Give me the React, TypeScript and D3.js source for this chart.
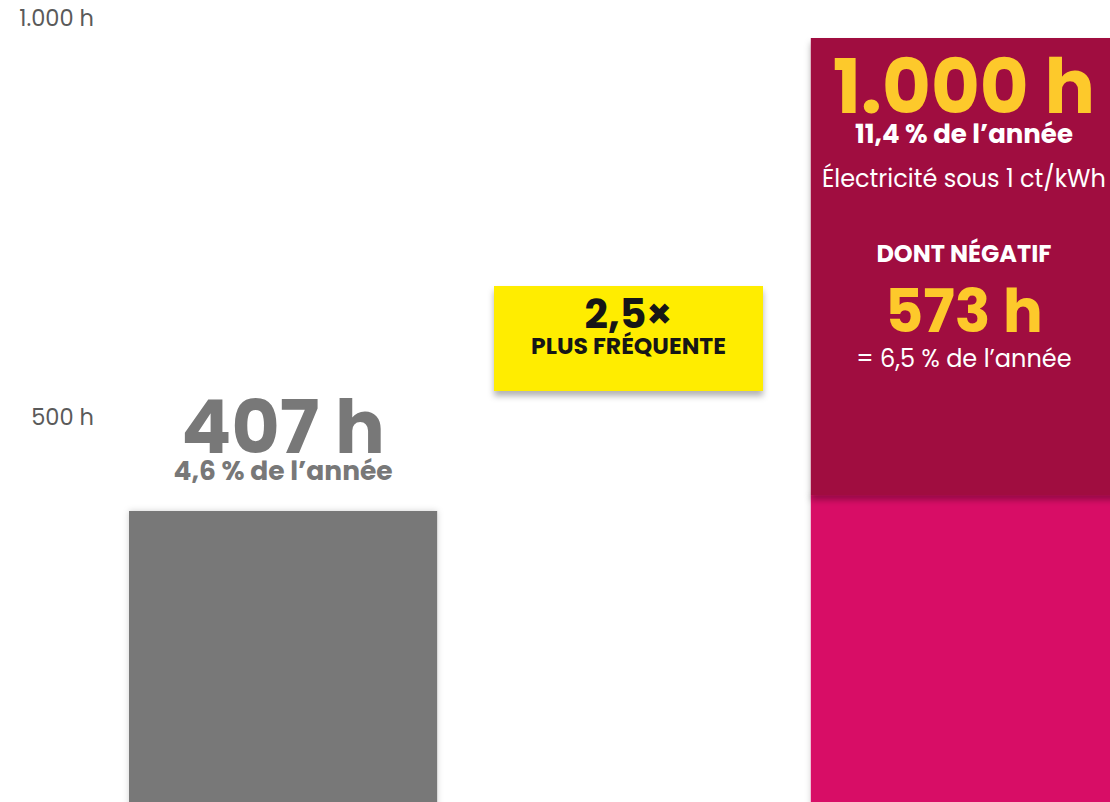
import { useEffect, useRef } from "react";
import * as d3 from "d3";

// periods compared (internal keys, not printed)
const periods = ["avant", "après"];
// hours with electricity below 1 ct/kWh
const totalHours = [407, 1000];
// of which hours with negative prices
const negativeHours = [0, 573];
const yTicks = [500, 1000];
const hoursInYear = 8760;

const colors = {
  axis: "#5a5a5a",
  grey: "#787878",
  dark: "#A0093F",
  pink: "#D81066",
  gold: "#FDC92B",
  box: "#FFED00",
  ink: "#161616",
};

const FONT = "Poppins, Inter, 'Open Sans', sans-serif";

const fr = d3.formatLocale({ decimal: ",", thousands: ".", grouping: [3], currency: ["", " €"] });
const fmtH = fr.format(",d");
const fmt1 = fr.format(".1f");

export default function App() {
  const svgRef = useRef<SVGSVGElement | null>(null);
  const width = 1110;
  const height = 802;

  useEffect(() => {
    if (!svgRef.current) return;
    const svg = d3.select(svgRef.current);
    svg.selectAll("*").remove();

    const x = d3.scaleBand().domain(periods).range([129, 1119]).paddingInner(0.548).paddingOuter(0);
    const y = d3.scaleLinear().domain([0, 1000]).range([835.6, 38]);

    const defs = svg.append("defs");
    const shadow = (id: string, dy: number, blur: number, op: number) => {
      const f = defs.append("filter").attr("id", id)
        .attr("x", "-10%").attr("y", "-10%").attr("width", "120%").attr("height", "130%");
      f.append("feDropShadow").attr("dx", 0).attr("dy", dy)
        .attr("stdDeviation", blur).attr("flood-color", "#000").attr("flood-opacity", op);
    };
    shadow("soft", 0, 3, 0.18);
    shadow("drop", 5, 3, 0.3);

    // y labels (no axis line)
    svg.append("g").selectAll("text").data(yTicks).enter().append("text")
      .attr("x", 94)
      .attr("y", d => y(d) - 12)
      .attr("text-anchor", "end")
      .style("font-family", FONT)
      .style("font-size", "22.5px")
      .style("font-weight", 400)
      .style("fill", colors.axis)
      .text(d => `${fmtH(d)} h`);

    const bw = x.bandwidth();

    // grey bar (previous period)
    const p0 = periods[0];
    svg.append("rect")
      .attr("x", x(p0)!)
      .attr("y", y(totalHours[0]))
      .attr("width", bw)
      .attr("height", y(0) - y(totalHours[0]))
      .attr("fill", colors.grey)
      .attr("filter", "url(#soft)");

    const cx0 = x(p0)! + bw / 2;
    const top0 = y(totalHours[0]);
    svg.append("text")
      .attr("x", cx0).attr("y", top0 - 58)
      .attr("text-anchor", "middle")
      .style("font-family", FONT).style("font-size", "74px").style("font-weight", 700)
      .style("fill", colors.grey)
      .text(`${fmtH(totalHours[0])} h`);
    svg.append("text")
      .attr("x", cx0).attr("y", top0 - 31)
      .attr("text-anchor", "middle")
      .style("font-family", FONT).style("font-size", "26.5px").style("font-weight", 700)
      .style("fill", colors.grey)
      .text(`${fmt1((totalHours[0] / hoursInYear) * 100)} % de l’année`);

    // stacked bar (current period): positive-but-cheap below, negative on top
    const p1 = periods[1];
    const x1 = x(p1)!;
    const lower = totalHours[1] - negativeHours[1];
    svg.append("rect")
      .attr("x", x1).attr("y", y(lower))
      .attr("width", bw).attr("height", y(0) - y(lower))
      .attr("fill", colors.pink)
      .attr("filter", "url(#soft)");
    svg.append("rect")
      .attr("x", x1).attr("y", y(totalHours[1]))
      .attr("width", bw).attr("height", y(lower) - y(totalHours[1]))
      .attr("fill", colors.dark)
      .attr("filter", "url(#drop)");

    const cx1 = x1 + bw / 2 - 1;
    const top1 = y(totalHours[1]);
    const lines = [
      { dy: 75, text: `${fmtH(totalHours[1])} h`, size: 75, weight: 700, fill: colors.gold },
      { dy: 105, text: `${fmt1((totalHours[1] / hoursInYear) * 100)} % de l’année`, size: 26, weight: 700, fill: "#fff" },
      { dy: 149, text: "Électricité sous 1 ct/kWh", size: 24, weight: 400, fill: "#fff" },
      { dy: 224, text: "DONT NÉGATIF", size: 24, weight: 700, fill: "#fff" },
      { dy: 294, text: `${fmtH(negativeHours[1])} h`, size: 59, weight: 700, fill: colors.gold },
      { dy: 329, text: `= ${fmt1((negativeHours[1] / hoursInYear) * 100)} % de l’année`, size: 24, weight: 400, fill: "#fff" },
    ];
    svg.append("g").selectAll("text").data(lines).enter().append("text")
      .attr("x", cx1)
      .attr("y", d => top1 + d.dy)
      .attr("text-anchor", "middle")
      .style("font-family", FONT)
      .style("font-size", d => `${d.size}px`)
      .style("font-weight", d => d.weight)
      .style("fill", d => d.fill)
      .text(d => d.text);

    // ratio callout between the bars
    const ratio = totalHours[1] / totalHours[0];
    const bx = 494, by = 286, bW = 269, bH = 105;
    const box = svg.append("g");
    box.append("rect")
      .attr("x", bx).attr("y", by).attr("width", bW).attr("height", bH)
      .attr("fill", colors.box)
      .attr("filter", "url(#drop)");
    box.append("text")
      .attr("x", bx + bW / 2).attr("y", by + 42)
      .attr("text-anchor", "middle")
      .style("font-family", FONT).style("font-size", "41px").style("font-weight", 700)
      .style("fill", colors.ink)
      .text(`${fmt1(ratio)}×`);
    box.append("text")
      .attr("x", bx + bW / 2).attr("y", by + 68)
      .attr("text-anchor", "middle")
      .style("font-family", FONT).style("font-size", "23.5px").style("font-weight", 700)
      .style("fill", colors.ink)
      .text("PLUS FRÉQUENTE");
  }, []);

  return (
    <svg
      ref={svgRef}
      width={width}
      height={height}
      style={{ position: "absolute", left: 0, top: 0, background: "#fff", overflow: "hidden" }}
    />
  );
}
